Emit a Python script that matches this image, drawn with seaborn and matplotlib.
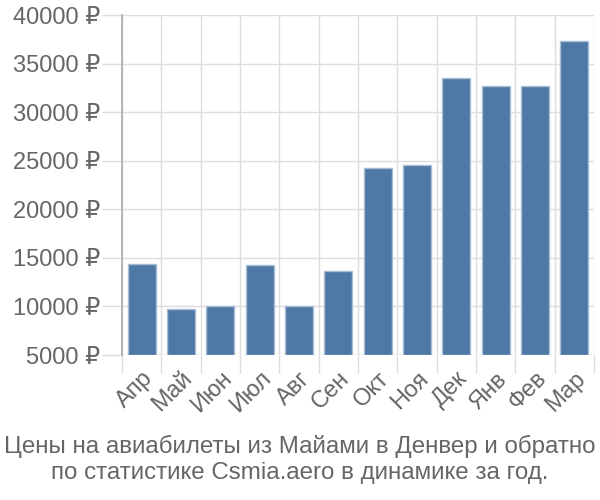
import matplotlib
matplotlib.use("Agg")
import matplotlib.pyplot as plt
import seaborn as sns
import pandas as pd
import numpy as np

months = ["Апр", "Май", "Июн", "Июл", "Авг", "Сен", "Окт", "Ноя", "Дек", "Янв", "Фев", "Мар"]
prices = [14400, 9700, 10050, 14300, 10050, 13650, 24200, 24550, 33550, 32650, 32650, 37350]
yticks = [5000, 10000, 15000, 20000, 25000, 30000, 35000, 40000]
title_lines = ["Цены на авиабилеты из Майами в Денвер и обратно",
               "по статистике Csmia.aero в динамике за год."]

sns.set_theme(style="white")
plt.rcParams["font.family"] = ["Liberation Sans", "DejaVu Sans"]

df = pd.DataFrame({"month": months, "price": prices})

fig = plt.figure(figsize=(6, 5), dpi=100)
ax = fig.add_axes([122 / 600, 145 / 500, 472 / 600, 340 / 500])

base = yticks[0]
sns.barplot(data=df, x="month", y=[p - base for p in prices], color="#4e79a7",
            saturation=1, width=0.72, edgecolor="#a9bdd4", linewidth=1,
            bottom=base, ax=ax, zorder=3)

ax.set_ylim(yticks[0], yticks[-1])
ax.set_xlim(-0.5, len(months) - 0.5)
ax.set_yticks(yticks)
ax.set_yticklabels([f"{v} ₽" for v in yticks])
ax.set_xticks(range(len(months)))
ax.set_xticklabels(months, rotation=45, ha="right", rotation_mode="anchor")
ax.set_xticks(np.arange(-0.5, len(months)), minor=True)

grid_c = "#dddddd"
ax.grid(axis="y", color=grid_c, linewidth=1, zorder=0)
ax.grid(axis="x", which="minor", color=grid_c, linewidth=1, zorder=0)
ax.tick_params(axis="y", length=14.5, color=grid_c, width=1, labelsize=17,
               labelcolor="#666666", pad=1, left=True)
ax.tick_params(axis="x", which="major", length=0, labelsize=17,
               labelcolor="#666666", pad=9)
ax.tick_params(axis="x", which="minor", length=13, color=grid_c, width=1, bottom=True)

for s in ["top", "right", "bottom"]:
    ax.spines[s].set_visible(False)
ax.spines["left"].set_color("#aaaaaa")
ax.spines["left"].set_linewidth(1.2)
ax.set_xlabel("")
ax.set_ylabel("")

fig.text(0.5, 1 - 446 / 500, title_lines[0], ha="center", va="center",
         fontsize=17.4, color="#666666")
fig.text(0.5, 1 - 473 / 500, title_lines[1], ha="center", va="center",
         fontsize=17.4, color="#666666")

fig.savefig("out.png", dpi=100)
